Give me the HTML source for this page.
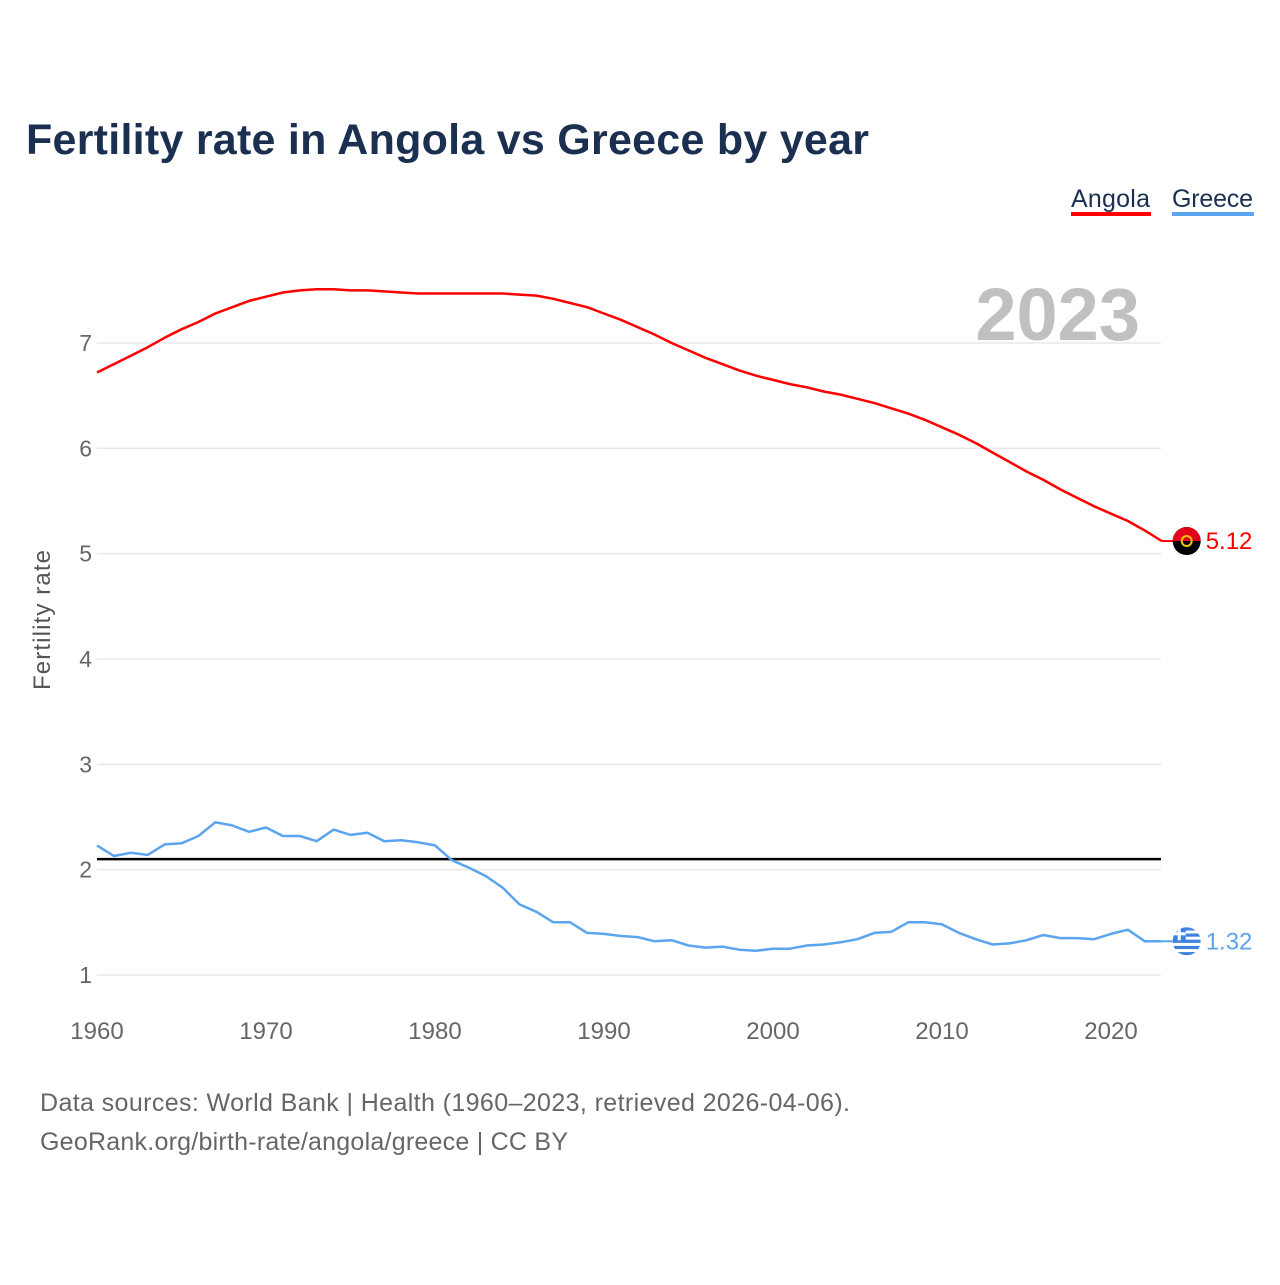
<!DOCTYPE html>
<html><head><meta charset="utf-8"><style>
body{margin:0;background:#fff;width:1280px;height:1280px;overflow:hidden;font-family:"Liberation Sans",sans-serif}
</style></head><body>
<svg width="1280" height="1280">
<defs><clipPath id="gclip"><circle id="gcirc" cx="0" cy="0" r="14"/></clipPath></defs>
<text x="26" y="154" font-size="43" font-weight="bold" fill="#1b3050" textLength="843">Fertility rate in Angola vs Greece by year</text>
<g>
<text x="1071" y="207" font-size="25" fill="#1b3050" textLength="79">Angola</text>
<rect x="1071" y="212" width="80" height="4" fill="#ff0000"/>
<text x="1172" y="207" font-size="25" fill="#1b3050" textLength="81">Greece</text>
<rect x="1172" y="212" width="82" height="4" fill="#5ba4ee"/>
</g>
<text x="1140" y="340" font-size="74" font-weight="bold" fill="#c0c0c0" text-anchor="end">2023</text>
<text transform="translate(50,620) rotate(-90)" font-size="24" fill="#555" text-anchor="middle" textLength="140">Fertility rate</text>
<g id="grid"></g><g id="marks"></g>
<text x="40" y="1111" font-size="25" fill="#666" textLength="810">Data sources: World Bank | Health (1960–2023, retrieved 2026-04-06).</text>
<text x="40" y="1150" font-size="25" fill="#666" textLength="528">GeoRank.org/birth-rate/angola/greece | CC BY</text>
</svg>
<script>
const years=[];for(let y=1960;y<=2023;y++)years.push(y);
const angola=[6.72,6.80,6.88,6.96,7.05,7.13,7.20,7.28,7.34,7.40,7.44,7.48,7.50,7.51,7.51,7.50,7.50,7.49,7.48,7.47,7.47,7.47,7.47,7.47,7.47,7.46,7.45,7.42,7.38,7.34,7.28,7.22,7.15,7.08,7.00,6.93,6.86,6.80,6.74,6.69,6.65,6.61,6.58,6.54,6.51,6.47,6.43,6.38,6.33,6.27,6.20,6.13,6.05,5.96,5.87,5.78,5.70,5.61,5.53,5.45,5.38,5.31,5.22,5.12];
const greece=[2.23,2.13,2.16,2.14,2.24,2.25,2.32,2.45,2.42,2.36,2.40,2.32,2.32,2.27,2.38,2.33,2.35,2.27,2.28,2.26,2.23,2.09,2.02,1.94,1.83,1.67,1.60,1.50,1.50,1.40,1.39,1.37,1.36,1.32,1.33,1.28,1.26,1.27,1.24,1.23,1.25,1.25,1.28,1.29,1.31,1.34,1.40,1.41,1.50,1.50,1.48,1.40,1.34,1.29,1.30,1.33,1.38,1.35,1.35,1.34,1.39,1.43,1.32,1.32];
const yTicks=[1,2,3,4,5,6,7];
const xTicks=[1960,1970,1980,1990,2000,2010,2020];
const replacement=2.1;
const NS="http://www.w3.org/2000/svg";
const X=v=>97+(v-1960)*16.9, Y=v=>975-(v-1)*105.33;
function mk(tag,attrs,parent,txt){const e=document.createElementNS(NS,tag);for(const k in attrs)e.setAttribute(k,attrs[k]);if(txt!=null)e.textContent=txt;parent.appendChild(e);return e;}
const grid=document.getElementById('grid'),marks=document.getElementById('marks');
yTicks.forEach(t=>{
 const l=mk('line',{x1:97,x2:1161,y1:Y(t),y2:Y(t),stroke:'#e8e8e8','stroke-width':1.5},grid);
 
 
 const tx=mk('text',{x:92,y:Y(t)+8,'font-size':23,fill:'#666','text-anchor':'end'},grid,String(t));
 
 
});
xTicks.forEach(t=>{
 const tx=mk('text',{x:X(t),y:1039,'font-size':24,fill:'#666','text-anchor':'middle'},grid,String(t));
 
 
});
const rl=mk('line',{x1:97,x2:1161,y1:Y(replacement),y2:Y(replacement),stroke:'#000','stroke-width':2.5},marks);


function series(vals,color,name){
 const d=vals.map((v,i)=>(i?'L':'M')+X(years[i]).toFixed(1)+','+Y(v).toFixed(1)).join('');
 const p=mk('path',{d:d,fill:'none',stroke:color,'stroke-width':2.5,'stroke-linejoin':'round'},marks);
 
 
 const last=vals[vals.length-1],lx=X(years[years.length-1]),ly=Y(last);
 const c=mk('line',{x1:lx,x2:lx+12,y1:ly,y2:ly,stroke:color,'stroke-width':2},marks);
 
 
 const t=mk('text',{x:lx+44,y:ly+8,'font-size':24,fill:color},marks,last.toFixed(2));
 
 
 return [lx+25,ly];
}
const [ax,ay]=series(angola,'#ff0000','angola');
const [gx,gy]=series(greece,'#5ba4ee','greece');
const af=mk('g',{},marks);


mk('circle',{cx:ax,cy:ay,r:14,fill:'#000'},af);
mk('path',{d:`M${ax-14},${ay} A14,14 0 0 1 ${ax+14},${ay} Z`,fill:'#e3001b'},af);
mk('circle',{cx:ax,cy:ay,r:5,fill:'none',stroke:'#f5c400','stroke-width':2},af);
const gc=document.getElementById('gcirc');gc.setAttribute('cx',gx);gc.setAttribute('cy',gy);
const gf=mk('g',{'clip-path':'url(#gclip)'},marks);


mk('circle',{cx:gx,cy:gy,r:14,fill:'#fff'},gf);
for(let i=0;i<5;i++){mk('rect',{x:gx-14,y:gy-14+i*6.2,width:28,height:3.2,fill:'#3d82e0'},gf);}
mk('rect',{x:gx-14,y:gy-14,width:13,height:13,fill:'#3d82e0'},gf);
mk('rect',{x:gx-9,y:gy-14,width:3,height:13,fill:'#fff'},gf);
mk('rect',{x:gx-14,y:gy-9,width:13,height:3,fill:'#fff'},gf);
</script>
</body></html>
